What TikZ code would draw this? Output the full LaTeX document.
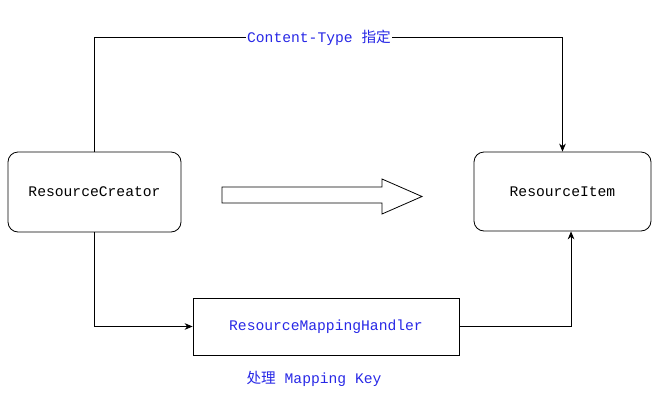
\documentclass[tikz,border=0pt]{standalone}
\usepackage{fontspec}
\setmonofont{Liberation Mono}
\newfontfamily\cjk{Noto Sans CJK SC}
\usepackage{xcolor}
\usetikzlibrary{arrows.meta}
\definecolor{labelblue}{RGB}{40,40,230}
\tikzstyle{arrow} = [->,>={Stealth[length=6pt,width=5pt]}, line width=0.6pt]
\tikzstyle{roundbox} = [rectangle, rounded corners=7.5pt, draw, line width=0.6pt, font=\ttfamily\fontsize{11}{13}\selectfont]
\tikzstyle{plainbox} = [rectangle, draw, line width=0.6pt, font=\ttfamily\fontsize{11}{13}\selectfont, text=labelblue]
\tikzstyle{label} = [font=\ttfamily\fontsize{11}{13}\selectfont, text=labelblue, inner sep=1pt]

\begin{document}
\begin{tikzpicture}[x=0.75pt, y=-0.75pt]
\useasboundingbox (0,0) rectangle (664,404);

\node (creator) [roundbox, minimum width=129.75pt, minimum height=60pt] at (94.5,192) {ResourceCreator};
\node (item) [roundbox, minimum width=132.75pt, minimum height=59.25pt] at (562.5,191.5) {ResourceItem};
\node (handler) [plainbox, minimum width=199.5pt, minimum height=42.75pt] at (326,326.5) {ResourceMappingHandler};

\draw[arrow] (creator.north) -- ++(0,-114) -| (item.north);
\draw[arrow] (creator.south) |- (handler.west);
\draw[arrow] (handler.east) -| ([xshift=6.4pt]item.south);

\node (typelabel) [label, fill=white] at (319,38) {Content-Type {\cjk 指定}};
\node (keylabel) [label] at (314,379) {{\cjk 处理} Mapping Key};

% big hollow arrow
\draw[line width=0.6pt] (222,187) -- (382,187) -- (382,179) -- (422,196.5)
  -- (382,214) -- (382,203) -- (222,203) -- cycle;

\end{tikzpicture}
\end{document}
